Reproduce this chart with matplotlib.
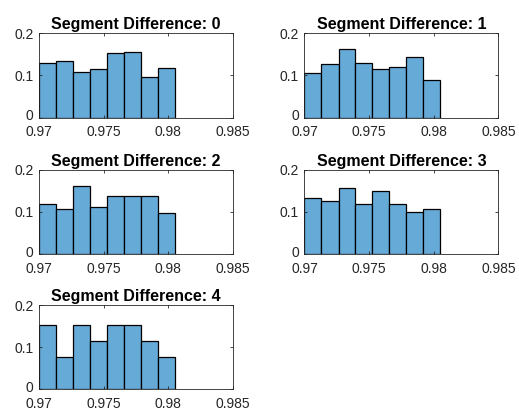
import matplotlib.pyplot as plt
import matplotlib.transforms as mtransforms
import numpy as np

plt.rcParams['font.family'] = ['Liberation Sans', 'DejaVu Sans']

# bin edges shared by all histograms
bin_edges = [0.9700, 0.97131, 0.97263, 0.97394, 0.97525, 0.97656, 0.97788, 0.97919, 0.9805]

# probability per bin for each segment difference
seg0 = [0.129, 0.134, 0.109, 0.116, 0.153, 0.155, 0.096, 0.118]
seg1 = [0.105, 0.127, 0.163, 0.130, 0.115, 0.120, 0.144, 0.089]
seg2 = [0.118, 0.107, 0.163, 0.113, 0.137, 0.137, 0.137, 0.097]
seg3 = [0.133, 0.125, 0.158, 0.118, 0.151, 0.118, 0.100, 0.107]
seg4 = [0.154, 0.077, 0.154, 0.115, 0.154, 0.154, 0.115, 0.077]
segments = [seg0, seg1, seg2, seg3, seg4]

x_ticks = [0.97, 0.975, 0.98, 0.985]
x_tick_labels = ['0.97', '0.975', '0.98', '0.985']
y_ticks = [0, 0.1, 0.2]
y_tick_labels = ['0', '0.1', '0.2']

face = (0.4, 0.668, 0.845)
axis_gray = (0.15, 0.15, 0.15)

fig = plt.figure(figsize=(5.19, 4.12), dpi=100)

lefts = [0.0751, 0.5867]
bottoms = [0.7148, 0.3835, 0.0551]
w, h = 0.3738, 0.2039

for i, vals in enumerate(segments):
    row, col = divmod(i, 2)
    ax = fig.add_axes([lefts[col], bottoms[row], w, h])
    edges = np.array(bin_edges)
    ax.bar(edges[:-1], vals, width=np.diff(edges), align='edge',
           color=face, edgecolor='black', linewidth=0.9)
    ax.set_xlim(0.97, 0.985)
    ax.set_ylim(0, 0.2)
    ax.set_xticks(x_ticks)
    ax.set_xticklabels(x_tick_labels)
    ax.set_yticks(y_ticks)
    ax.set_yticklabels(y_tick_labels)
    ax.tick_params(direction='in', length=2.5, width=0.6, top=True, right=True,
                   labelsize=10, colors=axis_gray)
    ax.tick_params(axis='x', pad=5.5)
    ax.tick_params(axis='y', pad=4)
    # nudge the "0" label up a little so it sits clear of "0.97"
    zero_lbl = ax.get_yticklabels()[0]
    zero_lbl.set_transform(zero_lbl.get_transform() +
                           mtransforms.ScaledTranslation(0, 2 / 72, fig.dpi_scale_trans))
    for s in ax.spines.values():
        s.set_color(axis_gray)
        s.set_linewidth(0.6)
    ax.set_title('Segment Difference: %d' % i, fontsize=11.5, fontweight='bold', pad=3)

fig.savefig('out.png', dpi=100)
